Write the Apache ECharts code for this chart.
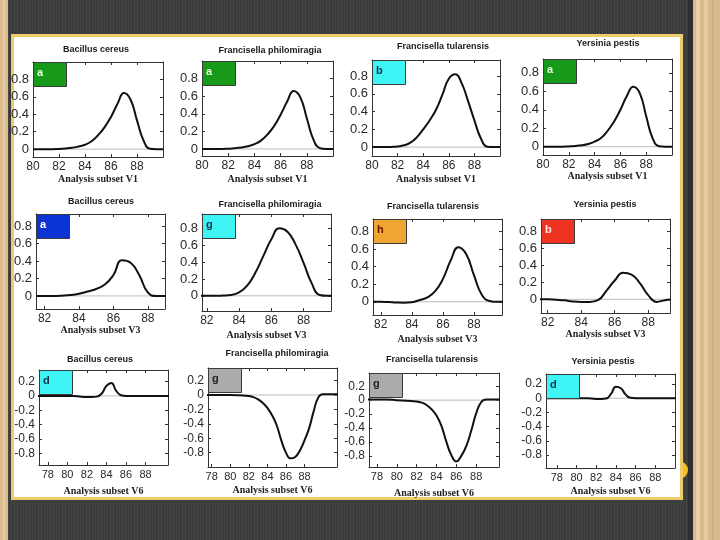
<!DOCTYPE html>
<html>
<head>
<meta charset="utf-8">
<script src="https://cdn.jsdelivr.net/npm/echarts@6/dist/echarts.min.js"></script>
<style>
html, body { margin: 0; padding: 0; }
body {
  width: 720px; height: 540px; overflow: hidden;
  background: repeating-linear-gradient(90deg, #3b3b3b 0px, #3b3b3b 2px, #454545 2px, #454545 3px);
}
#main { width: 720px; height: 540px; }
</style>
</head>
<body>
<div id="main"></div>
<script>
// organism names, one per panel (row by row)
const titles = [
  'Bacillus cereus', 'Francisella philomiragia', 'Francisella tularensis', 'Yersinia pestis',
  'Bacillus cereus', 'Francisella philomiragia', 'Francisella tularensis', 'Yersinia pestis',
  'Bacillus cereus', 'Francisella philomiragia', 'Francisella tularensis', 'Yersinia pestis'
];
const subsetNames = ['Analysis subset V1', 'Analysis subset V3', 'Analysis subset V6'];
const letters = ['a', 'a', 'b', 'a', 'a', 'g', 'h', 'b', 'd', 'g', 'g', 'd'];
const boxColors = ['#17991a', '#17991a', '#3ef4f4', '#17991a', '#0c34d4', '#3ef4f4',
                   '#f0a532', '#ee3320', '#3ef4f4', '#ababab', '#ababab', '#3ef4f4'];
const letterColors = ['#e6ffe0', '#e6ffe0', '#15304a', '#e6ffe0', '#ffffff', '#15304a',
                      '#6a1500', '#ffe8e0', '#15304a', '#222222', '#222222', '#15304a'];

// tick labels
const xTicksV1 = [80, 82, 84, 86, 88];
const xTicksV3 = [82, 84, 86, 88];
const xTicksV6 = [78, 80, 82, 84, 86, 88];
const yTicksPos = [0, 0.2, 0.4, 0.6, 0.8];
const yTicksNeg = [-0.8, -0.6, -0.4, -0.2, 0, 0.2];

// x positions of the samples
const xV1 = [80, 80.5, 81, 81.5, 82, 82.5, 83, 83.5, 84, 84.5, 85, 85.5, 86, 86.5, 87, 87.5, 88, 88.5, 89, 89.5, 90];
const xV3 = [81.5, 82, 82.5, 83, 83.5, 84, 84.5, 85, 85.5, 86, 86.5, 87, 87.5, 88, 88.5, 89, 89.5, 90];
const xV6 = [77, 78, 79, 80, 81, 82, 82.5, 83, 83.5, 84, 84.5, 85, 85.5, 86, 86.5, 87, 87.5, 88, 88.5, 89, 89.5, 90, 91, 92];

// subset V1
const bcV1 = [0, 0, 0, 0, 0.003, 0.008, 0.015, 0.03, 0.05, 0.09, 0.16, 0.25, 0.37, 0.52, 0.645, 0.57, 0.33, 0.1, 0.005, 0, 0];
const fpV1 = [0, 0, 0, 0, 0.003, 0.008, 0.016, 0.03, 0.055, 0.095, 0.165, 0.26, 0.39, 0.54, 0.66, 0.59, 0.35, 0.11, 0.01, 0, 0];
const ftV1 = [0, 0, 0, 0.002, 0.008, 0.02, 0.05, 0.11, 0.2, 0.3, 0.42, 0.59, 0.77, 0.82, 0.72, 0.52, 0.3, 0.1, 0.005, 0, 0];
const ypV1 = [0, 0, 0, 0, 0.003, 0.008, 0.016, 0.03, 0.055, 0.095, 0.17, 0.27, 0.4, 0.55, 0.65, 0.58, 0.33, 0.09, 0.005, 0, 0];

// subset V3
const bcV3 = [0, 0, 0, 0.003, 0.01, 0.025, 0.05, 0.08, 0.13, 0.24, 0.41, 0.38, 0.24, 0.04, 0, 0, 0, 0];
const fpV3 = [0, 0, 0, 0.003, 0.01, 0.04, 0.12, 0.27, 0.47, 0.67, 0.8, 0.76, 0.61, 0.39, 0.15, 0.01, 0, 0];
const ftV3 = [0, 0, -0.003, -0.008, -0.01, -0.005, 0.02, 0.05, 0.12, 0.26, 0.47, 0.62, 0.54, 0.3, 0.08, 0.01, 0, 0];
const ypV3 = [0, 0, -0.005, -0.012, -0.025, -0.03, -0.03, -0.01, 0.1, 0.22, 0.31, 0.29, 0.19, 0.05, -0.03, -0.01, 0, 0];

// subset V6
const bcV6 = [0, 0, 0, 0, -0.005, -0.015, -0.015, -0.01, 0.03, 0.14, 0.18, 0.07, 0.01, 0, 0, 0, 0, 0, 0, 0, 0, 0, 0, 0];
const fpV6 = [0, 0, 0, 0, -0.005, -0.015, -0.03, -0.06, -0.11, -0.18, -0.28, -0.42, -0.63, -0.8, -0.88, -0.86, -0.77, -0.63, -0.46, -0.22, -0.03, 0.01, 0.01, 0.01];
const ftV6 = [0.01, 0.01, 0.01, 0, -0.01, -0.02, -0.035, -0.07, -0.13, -0.22, -0.37, -0.6, -0.79, -0.88, -0.8, -0.66, -0.44, -0.19, -0.03, 0.01, 0.01, 0.01, 0.01, 0.01];
const ypV6 = [0, 0, 0, 0, 0, -0.01, -0.01, -0.005, 0.06, 0.16, 0.14, 0.05, 0.005, 0, 0, 0, 0, 0, 0, 0, 0, 0, 0, 0];

const curves = [
  [xV1, bcV1], [xV1, fpV1], [xV1, ftV1], [xV1, ypV1],
  [xV3, bcV3], [xV3, fpV3], [xV3, ftV3], [xV3, ypV3],
  [xV6, bcV6], [xV6, fpV6], [xV6, ftV6], [xV6, ypV6]
];

// plot boxes on the slide (pixels) and axis extents
const layout = [
  { l: 33,  t: 62,  w: 130, h: 95, xr: [80, 90],     yr: [-0.09, 1.0],  gap: 17, tx: 96,  ty: 50 },
  { l: 202, t: 61,  w: 131, h: 95, xr: [80, 90],     yr: [-0.08, 1.0],  gap: 18, tx: 270, ty: 51 },
  { l: 372, t: 60,  w: 128, h: 96, xr: [80, 90],     yr: [-0.1, 0.98],  gap: 18, tx: 443, ty: 47 },
  { l: 543, t: 59,  w: 129, h: 96, xr: [80, 90],     yr: [-0.09, 0.95], gap: 14, tx: 608, ty: 44 },
  { l: 36,  t: 214, w: 129, h: 95, xr: [81.5, 89],   yr: [-0.15, 0.94], gap: 13, tx: 101, ty: 202 },
  { l: 202, t: 214, w: 129, h: 97, xr: [81.7, 89.7], yr: [-0.18, 0.97], gap: 19, tx: 270, ty: 205 },
  { l: 373, t: 219, w: 129, h: 96, xr: [81.5, 89.8], yr: [-0.15, 0.94], gap: 19, tx: 433, ty: 207 },
  { l: 541, t: 219, w: 129, h: 94, xr: [81.6, 89.3], yr: [-0.16, 0.94], gap: 16, tx: 605, ty: 205 },
  { l: 39,  t: 370, w: 129, h: 95, xr: [77.1, 90.3], yr: [-0.96, 0.36], gap: 21, tx: 100, ty: 360 },
  { l: 208, t: 368, w: 129, h: 99, xr: [77.6, 91.5], yr: [-1.0, 0.375], gap: 18, tx: 277, ty: 354 },
  { l: 369, t: 373, w: 130, h: 94, xr: [77.2, 90.3], yr: [-0.96, 0.39], gap: 21, tx: 432, ty: 360 },
  { l: 546, t: 374, w: 129, h: 94, xr: [76.9, 90],   yr: [-0.98, 0.34], gap: 18, tx: 603, ty: 362 }
];

const SANS = '"Liberation Sans", Arial, sans-serif';
const SERIF = '"Liberation Serif", "Times New Roman", serif';
const xTickSets = [xTicksV1, xTicksV3, xTicksV6];
const axisColor = '#333';

const grid = [], xAxis = [], yAxis = [], series = [];
const graphic = [
  // slide decoration
  { type: 'rect', z: -10, shape: { x: 0, y: 0, width: 8, height: 540 }, style: { fill: '#dcbb8f' } },
  { type: 'rect', z: -10, shape: { x: 3, y: 0, width: 2, height: 540 }, style: { fill: '#e9cfa6' } },
  { type: 'rect', z: -10, shape: { x: 688, y: 0, width: 5, height: 540 }, style: { fill: '#303030' } },
  { type: 'rect', z: -10, shape: { x: 693, y: 0, width: 27, height: 540 }, style: { fill: '#d9ba8e' } },
  { type: 'rect', z: -10, shape: { x: 696, y: 0, width: 4, height: 540 }, style: { fill: '#ead0a6' } },
  { type: 'rect', z: -10, shape: { x: 704, y: 0, width: 4, height: 540 }, style: { fill: '#e6cba0' } },
  { type: 'rect', z: -10, shape: { x: 712, y: 0, width: 2, height: 540 }, style: { fill: '#cfae80' } },
  { type: 'circle', z: -10, shape: { cx: 679, cy: 470, r: 9 }, style: { fill: '#f2c222' } },
  { type: 'rect', z: -9, shape: { x: 12.5, y: 35.5, width: 669, height: 463 },
    style: { fill: '#ffffff', stroke: '#efcc6a', lineWidth: 3 } }
];

layout.forEach(function (p, i) {
  const row = Math.floor(i / 4);
  const fs = row === 2 ? 11 : 12;
  const xTicks = xTickSets[row];
  const yTicks = row === 2 ? yTicksNeg : yTicksPos;
  grid.push({ left: p.l, top: p.t, width: p.w, height: p.h, containLabel: false });

  const base = {
    gridIndex: i, type: 'value', min: p.xr[0], max: p.xr[1],
    splitLine: { show: false },
    axisLine: { show: true, onZero: false, lineStyle: { color: axisColor, width: 1 } },
    axisTick: { show: true, inside: true, length: 3, customValues: xTicks, lineStyle: { color: axisColor } }
  };
  xAxis.push(Object.assign({}, base, {
    position: 'bottom',
    axisLabel: { customValues: xTicks, margin: 4, fontSize: fs, color: '#2a2a2a', fontFamily: SANS },
    name: subsetNames[row], nameLocation: 'middle', nameGap: p.gap,
    nameTextStyle: { fontFamily: SERIF, fontWeight: 'bold', fontSize: 10, color: '#222' }
  }));
  xAxis.push(Object.assign({}, base, { position: 'top', axisLabel: { show: false } }));

  const ybase = {
    gridIndex: i, type: 'value', min: p.yr[0], max: p.yr[1],
    splitLine: { show: false },
    axisLine: { show: true, onZero: false, lineStyle: { color: axisColor, width: 1 } },
    axisTick: { show: true, inside: true, length: 3, customValues: yTicks, lineStyle: { color: axisColor } }
  };
  yAxis.push(Object.assign({}, ybase, {
    position: 'left',
    axisLabel: { customValues: yTicks, margin: 4, fontSize: fs + 1, color: '#2a2a2a', fontFamily: SANS }
  }));
  yAxis.push(Object.assign({}, ybase, { position: 'right', axisLabel: { show: false } }));

  // zero reference line
  series.push({
    type: 'line', xAxisIndex: 2 * i, yAxisIndex: 2 * i, silent: true, z: 1,
    symbol: 'none', data: [[p.xr[0], 0], [p.xr[1], 0]],
    lineStyle: { color: '#bdbdbd', width: 1 }
  });
  const xs = curves[i][0], ys = curves[i][1];
  series.push({
    type: 'line', xAxisIndex: 2 * i, yAxisIndex: 2 * i, z: 3,
    symbol: 'none', smooth: 0.5,
    data: xs.map(function (v, k) { return [v, ys[k]]; }),
    lineStyle: { color: '#111', width: 2 }
  });

  graphic.push({
    type: 'text', z: 5,
    style: { text: titles[i], x: p.tx, y: p.ty, align: 'center', verticalAlign: 'middle',
      textAlign: 'center', textVerticalAlign: 'middle',
      font: 'bold 9px ' + SANS, fill: '#1a1a1a' }
  });
  graphic.push({
    type: 'rect', z: 50,
    shape: { x: p.l + 0.5, y: p.t + 0.5, width: 33, height: 24 },
    style: { fill: boxColors[i], stroke: '#3a3a3a', lineWidth: 1 }
  });
  graphic.push({
    type: 'text', z: 51,
    style: { text: letters[i], x: p.l + 4, y: p.t + 11, align: 'left', verticalAlign: 'middle',
      textAlign: 'left', textVerticalAlign: 'middle',
      font: 'bold 11px ' + SANS, fill: letterColors[i] }
  });
});

const chart = echarts.init(document.getElementById('main'));
chart.setOption({
  animation: false,
  backgroundColor: 'transparent',
  grid: grid,
  xAxis: xAxis,
  yAxis: yAxis,
  series: series,
  graphic: graphic
});
</script>
</body>
</html>
